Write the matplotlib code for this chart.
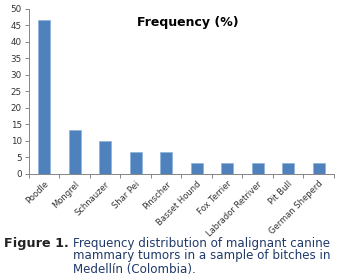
import matplotlib
matplotlib.use('Agg')
import matplotlib.pyplot as plt

# breeds and frequency (%)
breeds = ['Poodle', 'Mongrel', 'Schnauzer', 'Shar Pei', 'Pinscher', 'Basset Hound',
          'Fox Terrier', 'Labrador Retriver', 'Pit Bull', 'German Sheperd']
freq = [46.7, 13.3, 10.0, 6.7, 6.7, 3.3, 3.3, 3.3, 3.3, 3.3]
yticks = [0, 5, 10, 15, 20, 25, 30, 35, 40, 45, 50]

plt.rcParams['font.family'] = ['DejaVu Sans']

fig = plt.figure(figsize=(3.4, 2.8), dpi=100)
ax = fig.add_axes([0.085, 0.379, 0.897, 0.589])

x = list(range(len(breeds)))
ax.bar(x, freq, width=0.4, color='#4F81BD', edgecolor='#8FB0D8', linewidth=0.5)

ax.set_xlim(-0.5, len(breeds) - 0.5)
ax.set_ylim(0, 50)
ax.set_yticks(yticks)
ax.set_yticklabels([str(t) for t in yticks], fontsize=6.3, color='#333333')
ax.set_xticks(x)
ax.set_xticklabels(breeds, rotation=45, ha='right', rotation_mode='anchor',
                   fontsize=6.0, color='#333333')
ax.tick_params(axis='x', length=0, pad=4)
ax.set_xticks([i - 0.5 for i in range(len(breeds) + 1)], minor=True)
ax.tick_params(axis='x', which='minor', length=3, color='#868686', width=0.7)
ax.tick_params(axis='y', length=3, color='#868686', width=0.7, pad=2)

for s in ['top', 'right']:
    ax.spines[s].set_visible(False)
for s in ['left', 'bottom']:
    ax.spines[s].set_color('#868686')
    ax.spines[s].set_linewidth(0.7)

ax.text(0.52, 0.92, 'Frequency (%)', transform=ax.transAxes, ha='center', va='center',
        fontsize=9, fontweight='bold', color='black')

fig.text(4 / 340, 1 - 243 / 280, 'Figure 1.', fontsize=9.2, fontweight='bold',
         color='#222222', va='center')
cap = ['Frequency distribution of malignant canine',
       'mammary tumors in a sample of bitches in',
       'Medellín (Colombia).']
for i, line in enumerate(cap):
    fig.text(73 / 340, 1 - (243 + 13 * i) / 280, line, fontsize=8.6,
             color='#1f3a6a', va='center')

fig.savefig('out.png', dpi=100)
